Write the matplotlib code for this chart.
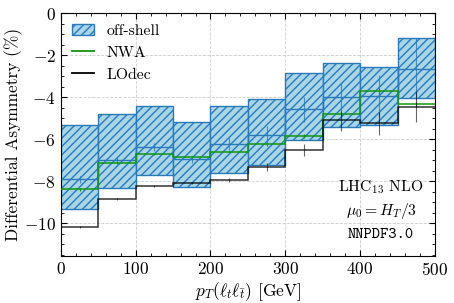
import numpy as np
import matplotlib
matplotlib.use('Agg')
import matplotlib.pyplot as plt
from matplotlib.ticker import AutoMinorLocator
from matplotlib.patches import Patch
from matplotlib.lines import Line2D

plt.rcParams['font.family'] = 'serif'
plt.rcParams['font.serif'] = ['cmr10']
plt.rcParams['mathtext.fontset'] = 'cm'
plt.rcParams['axes.formatter.use_mathtext'] = True
plt.rcParams['font.size'] = 12.5

# bin edges in pT [GeV]
edges = np.arange(0, 550, 50)

# off-shell: central value, band low/high, MC error
offshell = [-7.92, -7.00, -6.37, -6.97, -6.24, -5.81, -4.59, -3.98, -3.95, -2.68]
offshell_lo = [-9.35, -8.35, -7.70, -8.27, -7.63, -7.24, -6.05, -5.41, -5.33, -4.06]
offshell_hi = [-5.33, -4.81, -4.41, -5.21, -4.43, -4.11, -2.87, -2.40, -2.56, -1.21]
offshell_err = [0.15, 0.15, 0.2, 0.15, 0.3, 0.45, 0.6, 0.65, 1.0, 1.48]

# NWA
nwa = [-8.40, -7.16, -6.73, -6.84, -6.60, -6.24, -5.86, -4.81, -3.71, -4.33]
nwa_err = [0.05, 0.05, 0.05, 0.05, 0.05, 0.07, 0.1, 0.1, 0.15, 0.1]

# LOdec
lodec = [-10.20, -8.84, -8.24, -8.08, -7.95, -7.32, -6.52, -5.10, -5.25, -4.46]
lodec_err = [0.05, 0.05, 0.05, 0.05, 0.1, 0.2, 0.28, 0.5, 0.55, 0.75]

blue = '#2a7ab9'
green = '#119611'
centers = 0.5 * (edges[:-1] + edges[1:])

fig = plt.figure(figsize=(4.54, 3.03), dpi=100)
ax = fig.add_axes([0.134, 0.155, 0.824, 0.802])

lo = np.array(offshell_lo)
hi = np.array(offshell_hi)
ax.bar(centers, hi - lo, bottom=lo, width=50, facecolor='#a8d5e8',
       edgecolor=blue, hatch='////', linewidth=1.0, zorder=2)
ax.stairs(offshell, edges, baseline=None, color=blue, lw=1.0, zorder=3)
ax.errorbar(centers, offshell, yerr=offshell_err, fmt='none', ecolor=blue,
            elinewidth=0.8, alpha=0.8, zorder=3)

ax.stairs(nwa, edges, baseline=None, color=green, lw=1.1, zorder=4)
ax.errorbar(centers, nwa, yerr=nwa_err, fmt='none', ecolor=green,
            elinewidth=0.8, zorder=4)

ax.stairs(lodec, edges, baseline=None, color='black', lw=1.1, alpha=0.8, zorder=4)
ax.errorbar(centers, lodec, yerr=lodec_err, fmt='none', ecolor='black',
            elinewidth=0.8, alpha=0.6, zorder=4)

ax.set_xlim(0, 500)
ax.set_ylim(-11.57, 0)
ax.xaxis.set_minor_locator(AutoMinorLocator())
ax.yaxis.set_minor_locator(AutoMinorLocator())
ax.tick_params(which='both', direction='in', top=True, right=True)
ax.tick_params(which='major', length=4)
ax.tick_params(which='minor', length=2)
ax.grid(True, which='major', ls='--', color='#cccccc', lw=0.6, zorder=0)
ax.set_axisbelow(True)

ax.set_xlabel(r'$p_T(\ell_t\ell_{\bar{t}})$ [GeV]', labelpad=2)
ax.set_ylabel('Differential Asymmetry (%)', labelpad=0.5)

handles = [Patch(facecolor='#a8d5e8', edgecolor=blue, hatch='////'),
           Line2D([], [], color=green, lw=1.3),
           Line2D([], [], color='black', lw=1.3)]
ax.legend(handles, ['off-shell', 'NWA', 'LOdec'], loc='upper left',
          fontsize=11.3, frameon=False, handlelength=1.4, handletextpad=0.83,
          labelspacing=0.5, borderaxespad=0.3, borderpad=0.4)

ax.text(0.856, 0.285, r'LHC$_{13}$ NLO', transform=ax.transAxes,
        ha='center', va='center', fontsize=11.3)
ax.text(0.856, 0.185, r'$\mu_0 = H_T/3$', transform=ax.transAxes,
        ha='center', va='center', fontsize=11.3)
ax.text(0.856, 0.088, 'NNPDF3.0', transform=ax.transAxes,
        ha='center', va='center', family='cmtt10', fontsize=11.3)

fig.savefig('out.png', dpi=100)
